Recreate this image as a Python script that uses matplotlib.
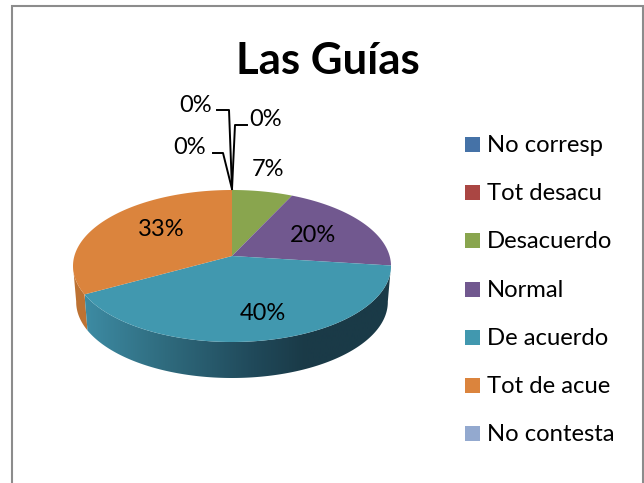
import numpy as np
import matplotlib
matplotlib.use("Agg")
import matplotlib.pyplot as plt
from matplotlib.patches import Polygon, Rectangle
from matplotlib.colors import LinearSegmentedColormap

categories = ["No corresp", "Tot desacu", "Desacuerdo", "Normal", "De acuerdo", "Tot de acue", "No contesta"]
values = [0, 0, 7, 20, 40, 33, 0]
colors = ["#4572a7", "#aa4643", "#89a54e", "#71588f", "#4198af", "#db843d", "#93a9cf"]
labels = ["0%", "0%", "7%", "20%", "40%", "33%", "0%"]

W, H = 644, 483
plt.rcParams['font.family'] = ['Lato', 'DejaVu Sans']
fig = plt.figure(figsize=(W/100, H/100), dpi=100)
ax = fig.add_axes([0, 0, 1, 1])
ax.set_xlim(0, W); ax.set_ylim(H, 0); ax.axis('off')

ax.add_patch(Rectangle((12.5, 6), 630.5, 490, fc='white', ec='#8c8c8c', lw=1.5))

cx, cy, rx, ry, apex = 232, 266, 159, 76, 10
k = apex / ry
c = rx * np.sqrt(1 - k**2)

def rim(frac, dy=0, sx=1.0):
    th = 2*np.pi*np.asarray(frac)
    u, v = np.sin(th), np.cos(th)
    d = 1 + k*v
    return cx + sx*c*u/d, cy + dy - (ry*v + apex)/d

apex_xy = (cx, cy - apex)
edges = np.cumsum([0] + values) / sum(values)

depth = 36
def wall(f0, f1, n=200):
    f = np.linspace(f0, f1, n)
    x0, y0 = rim(f)
    x1, y1 = rim(f, dy=depth, sx=0.98)
    return x0, y0, x1, y1

# orange side
x0, y0, x1, y1 = wall(edges[5], 0.73)
ax.add_patch(Polygon(np.r_[np.c_[x0, y0], np.c_[x1, y1][::-1]], fc='#bd7233', ec='none'))
# teal side with gradient
x0, y0, x1, y1 = wall(edges[4], edges[5], 300)
cm = LinearSegmentedColormap.from_list('t', [(0, '#3d8ba3'), (0.26, '#2f6b7e'), (0.55, '#20495a'), (0.72, '#1a3a47'), (1, '#1a3a47')])
poly = Polygon(np.r_[np.c_[x0, y0], np.c_[x1, y1][::-1]], fc='none', ec='none')
ax.add_patch(poly)
grad = np.linspace(0, 1, 256)[None, :]
im = ax.imshow(grad, cmap=cm, extent=[85, 392, H, 0], aspect='auto', zorder=1.5)
im.set_clip_path(poly)
ax.set_xlim(0, W); ax.set_ylim(H, 0)

# top
for i, v in enumerate(values):
    if v == 0:
        continue
    f = np.linspace(edges[i], edges[i+1], 120)
    x, y = rim(f)
    ax.add_patch(Polygon(np.r_[[apex_xy], np.c_[x, y]], fc=colors[i], ec='none', zorder=2))

ax.text(328, 61, "Las Guías", fontsize=31.5, fontweight='bold', ha='center', va='center', color='black')

fs = 17
pos = {0: (190, 147), 1: (196, 105), 6: (266, 119), 2: (268, 169), 3: (313, 235), 4: (263, 313), 5: (161, 229)}
for i, (px, py) in pos.items():
    ax.text(px, py, labels[i], fontsize=fs, ha='center', va='center', color='black', zorder=4)

ax.plot([213, 223, 232], [153, 153, 189], color='k', lw=1.4, zorder=3)
ax.plot([217, 229, 232], [110, 110, 189], color='k', lw=1.4, zorder=3)
ax.plot([247, 235, 232], [125, 125, 189], color='k', lw=1.4, zorder=3)

ly = [144, 192, 240, 289, 337, 385, 433]
for name, col, y in zip(categories, colors, ly):
    ax.add_patch(Rectangle((465, y-7.5), 15, 15, fc=col, ec='none'))
    ax.text(487, y+1.5, name, fontsize=17.2, va='center', ha='left', color='black')

fig.savefig('out.png', dpi=100)
